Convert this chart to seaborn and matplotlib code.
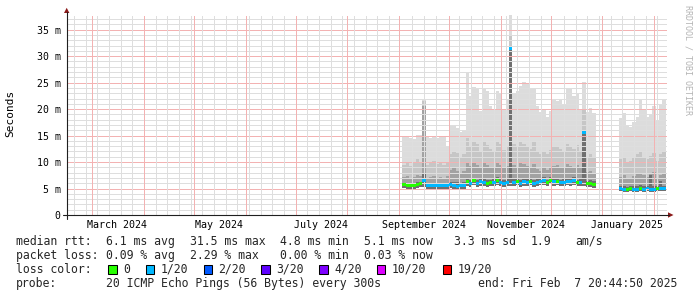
import datetime as dt
import numpy as np
import pandas as pd
import matplotlib
matplotlib.use("Agg")
import matplotlib.pyplot as plt
import matplotlib.dates as mdates
from matplotlib.lines import Line2D
from matplotlib.patches import Polygon, Rectangle
import seaborn as sns

# ---------------- data ----------------
BIN_DAYS = 2
seg1_start = "2024-09-03"
seg2_start = "2025-01-11"

# segment 1 (Sep 3 -> Dec 28 2024), values in ms
seg1_top = [14.8, 14.8, 14.5, 14.3, 15.2, 15.2, 22.0, 14.8, 14.5, 15.0,
            14.6, 15.0, 14.8, 13.0, 16.8, 17.0, 16.5, 15.6, 16.0, 26.8,
            22.5, 24.2, 24.0, 19.6, 23.9, 23.5, 20.5, 19.8, 23.4, 23.0,
            20.0, 21.8, 37.8, 22.8, 23.5, 24.4, 25.1, 25.0, 24.0, 24.0,
            20.5, 19.5, 20.0, 18.5, 19.6, 21.8, 21.5, 22.0, 21.0, 23.8,
            24.0, 22.4, 22.8, 20.0, 25.2, 19.5, 20.2, 19.3]
seg1_hi = [9.5, 10.0, 9.2, 9.8, 10.5, 10.0, 21.5, 9.5, 9.8, 10.2,
           9.6, 10.0, 9.4, 9.8, 11.5, 12.0, 11.8, 11.0, 11.5, 14.5,
           13.0, 14.0, 13.5, 12.0, 14.0, 13.2, 12.5, 12.0, 13.8, 13.5,
           12.2, 13.0, 34.0, 13.5, 12.8, 14.0, 13.5, 13.0, 12.5, 13.8,
           12.0, 11.5, 12.0, 11.5, 12.2, 12.8, 13.0, 12.5, 12.0, 13.5,
           13.0, 12.5, 13.2, 12.0, 20.0, 11.0, 11.5, 10.8]
seg1_mid = [7.2, 7.4, 7.0, 7.2, 7.6, 7.4, 20.5, 7.0, 7.2, 7.4,
            7.0, 7.2, 7.0, 7.3, 8.5, 8.8, 8.4, 8.0, 8.4, 10.0,
            9.2, 9.8, 9.5, 8.8, 10.0, 9.4, 9.0, 8.8, 9.8, 9.5,
            8.8, 9.2, 31.2, 9.5, 9.0, 9.8, 9.6, 9.2, 9.0, 9.6,
            8.6, 8.4, 8.8, 8.5, 8.8, 9.2, 9.4, 9.0, 8.8, 9.6,
            9.2, 9.0, 9.4, 8.8, 15.6, 8.2, 8.4, 8.0]
seg1_low = [6.1, 6.0, 5.9, 6.0, 6.2, 6.3, 8.0, 5.9, 5.9, 6.0,
            5.9, 6.0, 5.9, 6.0, 6.3, 6.3, 6.2, 6.1, 6.2, 6.9,
            6.6, 7.0, 6.6, 6.8, 6.8, 6.6, 6.7, 6.8, 7.2, 6.8,
            6.6, 6.8, 31.2, 6.8, 7.0, 6.6, 6.9, 6.8, 7.0, 6.6,
            6.8, 6.9, 7.1, 6.7, 7.2, 6.9, 7.0, 6.7, 6.8, 7.0,
            6.9, 7.1, 6.7, 6.8, 15.4, 6.5, 6.6, 6.4]
seg1_median = [5.7, 5.6, 5.5, 5.6, 5.7, 5.9, 6.6, 5.5, 5.5, 5.6,
               5.5, 5.6, 5.5, 5.6, 5.7, 5.5, 5.4, 5.5, 5.6, 6.3,
               6.0, 6.5, 6.0, 6.3, 6.2, 6.0, 6.1, 6.2, 6.6, 6.2,
               6.0, 6.2, 31.5, 6.2, 6.4, 6.0, 6.3, 6.2, 6.4, 6.0,
               6.2, 6.3, 6.5, 6.1, 6.6, 6.3, 6.4, 6.1, 6.2, 6.4,
               6.3, 6.5, 6.1, 6.2, 15.5, 5.9, 6.0, 5.8]
seg1_min = [5.1, 5.0, 4.9, 5.0, 5.1, 5.2, 5.2, 4.9, 4.9, 5.0,
            4.9, 5.0, 4.9, 5.0, 5.1, 4.9, 4.8, 4.9, 5.0, 5.5,
            5.3, 5.6, 5.3, 5.5, 5.5, 5.3, 5.4, 5.5, 5.7, 5.5,
            5.3, 5.5, 5.4, 5.5, 5.6, 5.3, 5.5, 5.5, 5.6, 5.3,
            5.5, 5.6, 5.7, 5.4, 5.8, 5.5, 5.6, 5.4, 5.5, 5.6,
            5.5, 5.7, 5.4, 5.5, 5.4, 5.2, 5.3, 5.1]
seg1_loss = [0, 0, 0, 0, 0, 0, 1, 1, 1, 1,
             1, 1, 1, 1, 1, 1, 1, 1, 1, 0,
             1, 0, 1, 1, 1, 0, 0, 1, 0, 1,
             1, 1, 1, 1, 0, 1, 1, 1, 0, 1,
             1, 1, 1, 0, 0, 1, 0, 1, 1, 1,
             1, 1, 0, 1, 1, 0, 0, 0]

# segment 2 (Jan 11 -> Feb 8 2025)
seg2_top = [18.3, 19.3, 17.0, 16.7, 17.5, 18.6, 21.7, 20.0, 18.6, 18.8, 20.6, 17.7, 21.0, 21.7]
seg2_hi = [10.5, 11.0, 9.8, 10.2, 10.8, 11.5, 12.0, 11.0, 10.5, 11.2, 11.8, 10.2, 11.5, 12.0]
seg2_mid = [7.2, 7.5, 6.8, 7.0, 7.4, 7.8, 8.0, 7.5, 7.2, 7.8, 8.2, 7.0, 7.5, 8.0]
seg2_low = [5.4, 5.4, 5.3, 5.4, 5.4, 5.5, 5.6, 5.4, 5.5, 7.6, 5.5, 5.4, 6.4, 5.5]
seg2_median = [5.0, 4.9, 4.9, 5.0, 4.9, 4.9, 5.0, 4.9, 5.1, 4.9, 4.9, 5.0, 5.0, 5.0]
seg2_min = [4.5, 4.4, 4.4, 4.5, 4.4, 4.4, 4.5, 4.4, 4.6, 4.4, 4.4, 4.5, 4.5, 4.5]
seg2_loss = [1, 1, 0, 0, 1, 1, 0, 1, 1, 1, 1, 0, 1, 1]

y_ticks = [0, 5, 10, 15, 20, 25, 30, 35]
y_tick_labels = ["0", "5 m", "10 m", "15 m", "20 m", "25 m", "30 m", "35 m"]
x_labels = ["March 2024", "May 2024", "July 2024", "September 2024",
            "November 2024", "January 2025"]
x_label_months = [(2024, 3), (2024, 5), (2024, 7), (2024, 9), (2024, 11), (2025, 1)]

loss_keys = [0, 1, 2, 3, 4, 10, 19]
loss_names = ["0", "1/20", "2/20", "3/20", "4/20", "10/20", "19/20"]
loss_colors = ["#26ff00", "#00b8ff", "#0059ff", "#5e00ff", "#7e00ff", "#dd00ff", "#ff0000"]

stats_rtt = ["6.1 ms avg", "31.5 ms max", "4.8 ms min", "5.1 ms now", "3.3 ms sd", "1.9", "am/s"]
stats_loss = ["0.09 % avg", "2.29 % max", "0.00 % min", "0.03 % now"]
probe_text = "20 ICMP Echo Pings (56 Bytes) every 300s"
end_text = "end: Fri Feb  7 20:44:50 2025"

# ---------------- figure ----------------
sns.set_theme(style="white")
plt.rcParams['font.family'] = ['DejaVu Sans Mono', 'DejaVu Sans']
plt.rcParams['lines.scale_dashes'] = False

W, H = 697, 297
fig = plt.figure(figsize=(W / 100, H / 100), dpi=100)
fig.patch.set_facecolor("white")
L, R, T, B = 67, 667, 15, 215
ax = fig.add_axes([L / W, 1 - B / H, (R - L) / W, (B - T) / H])
ax.set_facecolor("white")

x_start = dt.datetime(2024, 2, 14, 20, 44, 50)
x_end = x_start + dt.timedelta(days=360)
ax.set_xlim(mdates.date2num(x_start), mdates.date2num(x_end))
ax.set_ylim(0, 200 / 5.294)
for s in ax.spines.values():
    s.set_visible(False)

PX = 0.72  # one pixel in points
DOT = (0, (PX, PX))
MINOR_GRID = "#dedede"
MAJOR_GRID = "#f3b2b2"
# horizontal grid
for v in range(1, 38):
    if v % 5:
        ax.axhline(v, color=MINOR_GRID, lw=PX, ls=DOT, zorder=3, antialiased=False)
for v in range(5, 36, 5):
    ax.axhline(v, color=MAJOR_GRID, lw=PX, ls=DOT, zorder=3, antialiased=False)
# vertical grid: weeks and months
month_starts = list(pd.date_range(x_start.date(), x_end, freq="MS"))
month_nums = np.array([mdates.date2num(d) for d in month_starts])
weeks = [d for d in pd.date_range(x_start.date(), x_end, freq="W-MON")
         if np.min(np.abs(month_nums - mdates.date2num(d))) > 1.5]
for d in weeks:
    ax.axvline(mdates.date2num(d), color=MINOR_GRID, lw=PX, ls=DOT, zorder=3, antialiased=False)
for d in month_starts:
    ax.axvline(mdates.date2num(d), color=MAJOR_GRID, lw=PX, ls=DOT, zorder=3, antialiased=False)

smoke_colors = ["#dcdcdc", "#c6c6c6", "#a2a2a2", "#707070"]
lc = dict(zip(loss_keys, loss_colors))


def draw_segment(start, top, hi, mid, low, med, mn, loss):
    x = mdates.date2num(pd.date_range(start, periods=len(top), freq=f"{BIN_DAYS}D"))
    mn = np.asarray(mn)
    for arr, col in zip([top, hi, mid, low], smoke_colors):
        arr = np.asarray(arr)
        ax.bar(x, arr - mn, width=BIN_DAYS, bottom=mn, align="edge", color=col,
               linewidth=0, antialiased=False, zorder=2)
    ax.bar(x, 0.56, width=BIN_DAYS, bottom=np.asarray(med) - 0.28, align="edge",
           color=[lc[k] for k in loss], linewidth=0, antialiased=False, zorder=5)


draw_segment(seg1_start, seg1_top, seg1_hi, seg1_mid, seg1_low, seg1_median, seg1_min, seg1_loss)
draw_segment(seg2_start, seg2_top, seg2_hi, seg2_mid, seg2_low, seg2_median, seg2_min, seg2_loss)

# ticks
ax.set_yticks(y_ticks, y_tick_labels)
ax.set_yticks(range(0, 38), minor=True)
ax.tick_params(axis="y", which="major", length=2.2, width=0.7, color="#1f1f1f",
               pad=2.3, labelsize=7.1, labelcolor="#000000", direction="out")
ax.tick_params(axis="y", which="minor", length=1.4, width=0.7, color="#1f1f1f", direction="out")
label_pos = [mdates.date2num(pd.Timestamp(y, m, 16)) for y, m in x_label_months]
ax.set_xticks(label_pos, x_labels)
ax.set_xticks([mdates.date2num(d) for d in weeks + month_starts], minor=True)
ax.tick_params(axis="x", which="major", length=0, pad=3.9, labelsize=7.2, labelcolor="#000000")
ax.tick_params(axis="x", which="minor", length=1.6, width=0.7, color="#1f1f1f", direction="out")
ax.grid(False)


def fx(px):
    return px / W


def fy(py):
    return 1 - py / H


# axes with arrows
AX_COL = "#1f1f1f"
ARROW_COL = "#8b1a1a"
fig.add_artist(Line2D([fx(63), fx(669)], [fy(215), fy(215)], color=AX_COL, lw=0.8))
fig.add_artist(Line2D([fx(66.7), fx(66.7)], [fy(219), fy(12)], color=AX_COL, lw=0.8))
fig.add_artist(Polygon([[fx(668), fy(212.3)], [fx(673.5), fy(215)], [fx(668), fy(217.7)]],
                       closed=True, color=ARROW_COL, lw=0))
fig.add_artist(Polygon([[fx(64), fy(13)], [fx(66.7), fy(7.8)], [fx(69.4), fy(13)]],
                       closed=True, color=ARROW_COL, lw=0))

# labels
fig.text(fx(10.7), fy(113.5), "Seconds", rotation=90, ha="center", va="center",
         fontsize=8, color="#000000")
fig.text(fx(688), fy(60), "RRDTOOL / TOBI OETIKER", rotation=270, ha="center",
         va="center", fontsize=6, color="#b4b4b4")

LEG = 8.3
CW = 6.95  # monospace column width in px


def col(c):
    return fx(16 + c * CW)


rows = [245, 259.3, 273, 287.3]
fig.text(col(0), fy(rows[0]), "median rtt:", fontsize=LEG, va="baseline")
for txt, c in zip(stats_rtt, [13, 25, 38, 50, 63, 74, 80.5]):
    fig.text(col(c), fy(rows[0]), txt, fontsize=LEG, va="baseline")
fig.text(col(0), fy(rows[1]), "packet loss:", fontsize=LEG, va="baseline")
for txt, c in zip(stats_loss, [13, 25, 38, 50]):
    fig.text(col(c), fy(rows[1]), txt, fontsize=LEG, va="baseline")
fig.text(col(0), fy(rows[2]), "loss color:", fontsize=LEG, va="baseline")
box_x = [108, 145.8, 203.6, 261.3, 319, 376.9, 442.7]
for name, color, bx in zip(loss_names, loss_colors, box_x):
    fig.add_artist(Rectangle((fx(bx), fy(273.5)), 8.5 / W, 9 / H, transform=fig.transFigure,
                             facecolor=color, edgecolor="#000000", lw=0.75))
    fig.text(fx(bx + 15), fy(rows[2]), name, fontsize=LEG, va="baseline")
fig.text(col(0), fy(rows[3]), "probe:", fontsize=LEG, va="baseline")
fig.text(col(13), fy(rows[3]), probe_text, fontsize=LEG, va="baseline")
fig.text(fx(477.8), fy(rows[3]), end_text, fontsize=LEG, va="baseline")

fig.savefig("out.png", dpi=100, facecolor="white")
